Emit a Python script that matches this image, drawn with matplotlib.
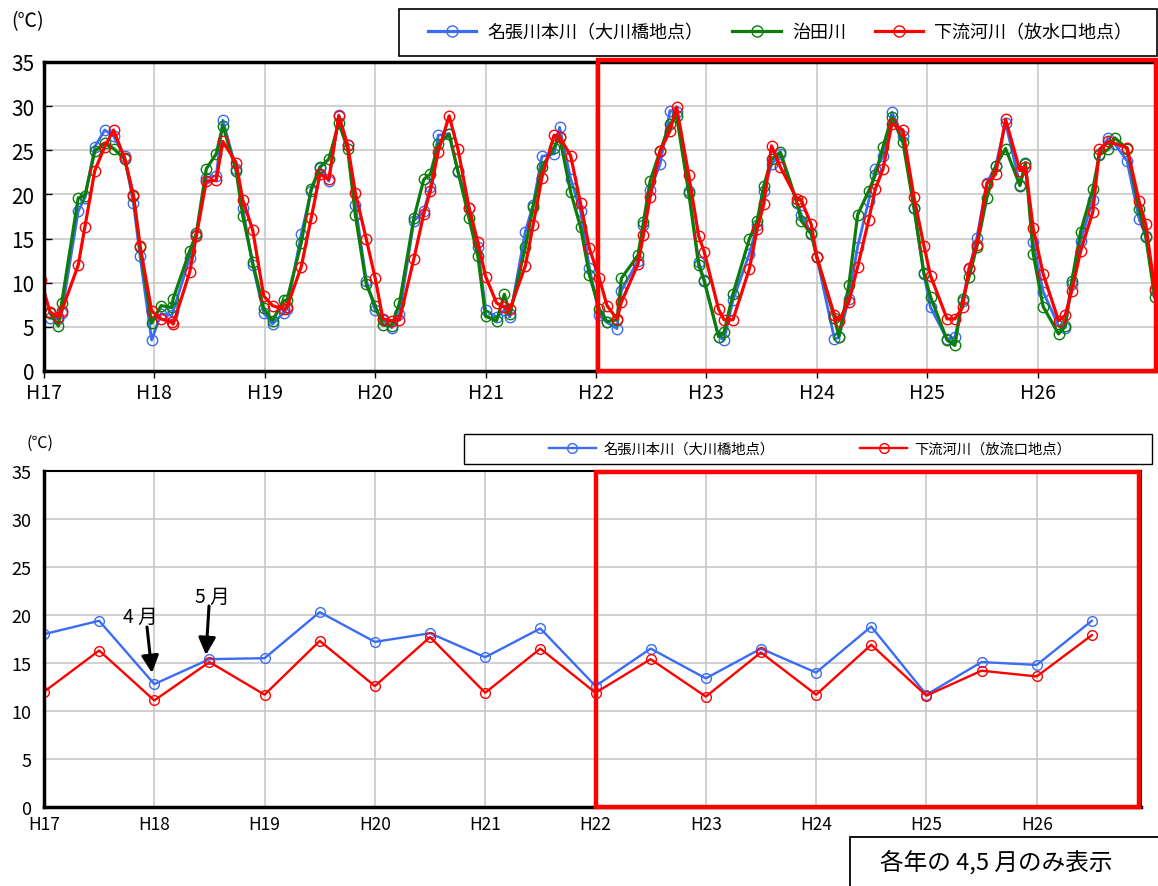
import numpy as np
import matplotlib
matplotlib.use("Agg")
import matplotlib.pyplot as plt
from matplotlib.patches import Rectangle
from matplotlib.lines import Line2D

plt.rcParams['font.family'] = ['Noto Sans CJK JP', 'DejaVu Sans']

# ---------------- data ----------------
year_labels = ['H17', 'H18', 'H19', 'H20', 'H21', 'H22', 'H23', 'H24', 'H25', 'H26']
series_names_top = ['名張川本川（大川橋地点）', '治田川', '下流河川（放水口地点）']
series_names_bottom = ['名張川本川（大川橋地点）', '下流河川（放流口地点）']

# sampling positions in years after H17
t_top = [-0.03, 0.054, 0.13, 0.16, 0.31, 0.37, 0.46, 0.55, 0.63, 0.73, 0.81, 0.87, 0.975,
         1.06, 1.157, 1.17, 1.32, 1.38, 1.47, 1.56, 1.62, 1.74, 1.80, 1.89, 1.99,
         2.07, 2.17, 2.20, 2.33, 2.42, 2.50, 2.58, 2.67, 2.75, 2.82, 2.92, 3.00,
         3.07, 3.15, 3.22, 3.35, 3.44, 3.50, 3.57, 3.67, 3.75, 3.85, 3.93, 4.00,
         4.10, 4.17, 4.22, 4.36, 4.43, 4.51, 4.62, 4.67, 4.77, 4.86, 4.94, 5.03,
         5.10, 5.19, 5.23, 5.38, 5.43, 5.49, 5.58, 5.67, 5.73, 5.84, 5.93, 5.98,
         6.11, 6.16, 6.24, 6.39, 6.46, 6.52, 6.59, 6.67, 6.82, 6.86, 6.95, 7.00,
         7.16, 7.20, 7.29, 7.37, 7.47, 7.53, 7.60, 7.68, 7.78, 7.88, 7.97, 8.03,
         8.18, 8.25, 8.32, 8.38, 8.45, 8.54, 8.62, 8.71, 8.84, 8.89, 8.96, 9.05,
         9.19, 9.25, 9.31, 9.39, 9.50, 9.56, 9.64, 9.70, 9.81, 9.92, 9.98, 10.06]

nabari_top = [np.nan, 6.0, 5.9, 6.6, 18.1, 19.6, 25.4, 27.3, 26.6, 24.3, 19.0, 13.0, 3.5,
              6.5, 6.3, 6.8, 12.8, 15.4, 21.9, 22.1, 28.4, 22.9, 18.5, 12.0, 6.6,
              5.3, 6.6, 7.0, 15.5, 20.4, 23.0, 21.5, 29.0, 25.6, 18.8, 10.2, 6.9,
              5.8, 4.9, 6.5, 17.0, 18.1, 20.8, 26.7, 26.9, 22.5, 18.5, 14.0, 6.9,
              6.1, 6.9, 6.1, 15.8, 18.8, 24.3, 24.6, 27.6, 21.8, 18.1, 11.7, 6.3,
              5.5, 4.8, 9.1, 12.5, 16.5, 20.5, 23.4, 29.5, 29.3, 20.4, 12.4, 10.3,
              3.9, 3.5, 8.0, 13.3, 16.5, 20.4, 23.4, 24.6, 19.0, 17.7, 15.6, 12.9,
              3.6, 3.8, 8.2, 14.1, 19.3, 22.9, 24.3, 29.3, 26.6, 18.5, 11.0, 7.2,
              3.6, 3.8, 7.9, 11.5, 15.1, 21.3, 23.2, 28.1, 21.1, 23.4, 14.6, 9.0,
              5.1, 4.9, 9.8, 14.7, 19.4, 24.6, 26.4, 25.7, 23.8, 17.2, 15.3, 9.1]

haruta_top = [np.nan, 6.6, 5.1, 7.7, 19.6, 19.8, 24.9, 25.8, 25.2, 24.0, 19.8, 14.0, 5.4,
              7.4, 7.2, 8.2, 13.6, 15.6, 22.9, 24.6, 27.8, 22.7, 17.6, 12.3, 7.1,
              5.7, 8.0, 8.0, 14.5, 20.6, 23.1, 24.0, 28.1, 25.2, 17.7, 9.8, 7.4,
              5.2, 5.1, 7.7, 17.3, 21.7, 22.3, 25.7, 26.8, 22.6, 17.3, 13.0, 6.2,
              5.7, 8.7, 6.4, 14.0, 18.6, 23.1, 25.3, 26.5, 20.3, 16.3, 10.9, 7.0,
              5.6, 5.8, 10.5, 13.1, 16.9, 21.5, 24.9, 28.0, 28.9, 20.2, 12.0, 10.2,
              3.9, 4.4, 8.7, 15.0, 17.0, 21.0, 24.0, 24.8, 19.1, 17.0, 15.5, 12.9,
              6.0, 3.9, 9.7, 17.7, 20.4, 22.2, 25.4, 28.8, 25.9, 18.5, 11.1, 8.4,
              3.5, 2.9, 8.1, 10.7, 14.1, 19.6, 23.2, 25.2, 21.0, 23.6, 13.3, 7.3,
              4.2, 5.1, 10.2, 15.8, 20.6, 24.5, 25.1, 26.4, 25.2, 18.3, 15.2, 8.4]

karyu_top = [10.3, 6.7, 6.1, 6.8, 12.0, 16.3, 22.7, 25.4, 27.3, 24.1, 19.9, 14.2, 6.8,
             5.9, 5.5, 5.3, 11.2, 15.3, 21.5, 21.6, 26.0, 23.6, 19.4, 16.0, 8.5,
             7.4, 7.0, 7.2, 11.8, 17.3, 22.3, 21.7, 28.9, 25.6, 20.2, 14.9, 10.5,
             5.9, 5.7, 5.8, 12.7, 17.8, 20.4, 24.8, 28.9, 25.1, 18.5, 14.6, 10.7,
             7.7, 7.2, 7.0, 11.9, 16.5, 21.9, 26.7, 26.5, 24.4, 19.0, 13.9, 10.5,
             7.4, 5.9, 7.8, 12.1, 15.4, 19.7, 24.9, 27.2, 29.9, 22.2, 15.3, 13.5,
             7.0, 5.8, 5.8, 11.6, 16.1, 18.9, 25.5, 23.1, 19.5, 19.3, 16.6, 12.9,
             6.3, 5.7, 7.8, 11.8, 17.1, 20.6, 22.9, 28.0, 27.3, 19.7, 14.2, 10.8,
             5.9, 5.9, 7.2, 11.7, 14.3, 21.2, 22.3, 28.5, 22.7, 23.1, 16.2, 11.0,
             5.7, 6.3, 9.1, 13.6, 18.0, 25.1, 26.0, np.nan, 25.3, 19.2, 16.6, 9.3]

# bottom chart: April (x = year) and May (x = year + 0.5)
t_bottom = [0.0, 0.5, 1.0, 1.5, 2.0, 2.5, 3.0, 3.5, 4.0, 4.5,
            5.0, 5.5, 6.0, 6.5, 7.0, 7.5, 8.0, 8.5, 9.0, 9.5]
nabari_bottom = [18.0, 19.4, 12.8, 15.4, 15.5, 20.3, 17.2, 18.1, 15.6, 18.6,
                 12.6, 16.5, 13.4, 16.5, 14.0, 18.8, 11.7, 15.1, 14.8, 19.4]
karyu_bottom = [12.0, 16.3, 11.1, 15.1, 11.7, 17.3, 12.6, 17.7, 11.9, 16.5,
                11.9, 15.4, 11.5, 16.1, 11.7, 16.9, 11.6, 14.2, 13.6, 17.9]

# ---------------- styling ----------------
W, H = 1158, 887
BLUE = '#3a6cf4'
GREEN = '#0a7d0a'
RED = '#ff0000'
GRID = '#c8c8c8'
tick_font = ['Liberation Sans Narrow', 'Noto Sans CJK JP', 'DejaVu Sans']

fig = plt.figure(figsize=(W / 100, H / 100), dpi=100)


def fx(px):
    return px / W


def fy(py):
    return 1 - py / H


def plot_series(ax, t, v, color, lw, ms):
    t = np.asarray(t, float)
    v = np.asarray(v, float)
    m = ~np.isnan(v)
    ax.plot(t[m], v[m], color=color, lw=lw, marker='o', ms=ms,
            mfc='none', mec=color, mew=1.0, clip_on=True)


# ---------------- top chart ----------------
ax1 = fig.add_axes([fx(44), fy(372), fx(1158 - 44), (372 - 63) / H])
ax1.set_xlim(0, (1158 - 44) / 110.4)
ax1.set_ylim(0, 35)
ax1.set_yticks(range(0, 36, 5))
ax1.set_xticks(range(10))
ax1.set_xticklabels(year_labels)
ax1.grid(True, color=GRID, lw=1.2)
ax1.set_axisbelow(True)
for s in ['left', 'top', 'bottom']:
    ax1.spines[s].set_linewidth(2.5)
    ax1.spines[s].set_color('black')
ax1.spines['right'].set_visible(False)
ax1.tick_params(axis='y', direction='in', length=6, width=1, pad=7)
ax1.tick_params(axis='x', direction='out', length=5, width=1, pad=3)
for lab in ax1.get_yticklabels():
    lab.set_fontfamily(tick_font)
    lab.set_fontsize(15)
for lab in ax1.get_xticklabels():
    lab.set_fontfamily(tick_font)
    lab.set_fontsize(14)

plot_series(ax1, t_top, nabari_top, BLUE, 2.0, 7.5)
plot_series(ax1, t_top, haruta_top, GREEN, 2.3, 7.5)
plot_series(ax1, t_top, karyu_top, RED, 2.3, 7.5)

fig.text(fx(11), fy(22), '(℃)', fontsize=14, va='center', ha='left')

# top legend box
fig.add_artist(Rectangle((fx(399), fy(57)), fx(1157 - 399), (57 - 10) / H,
                         transform=fig.transFigure, fill=False, ec='black', lw=1.2))
h_top = [Line2D([], [], color=c, lw=2.3, marker='o', ms=8, mfc='none', mec=c)
         for c in (BLUE, GREEN, RED)]
fig.legend(h_top, series_names_top, loc='center', bbox_to_anchor=(fx(780), fy(33)),
           ncol=3, frameon=False, fontsize=13, handlelength=2.7, columnspacing=1.6,
           handletextpad=0.6)

# red highlight box top
fig.add_artist(Rectangle((fx(598), fy(372)), fx(1156 - 598), (372 - 61) / H,
                         transform=fig.transFigure, fill=False, ec=RED, lw=3.2))

# ---------------- bottom chart ----------------
ax2 = fig.add_axes([fx(44), fy(808), fx(1141 - 44), (808 - 472) / H])
ax2.set_xlim(0, (1141 - 44) / 110.3)
ax2.set_ylim(0, 35)
ax2.set_yticks(range(0, 36, 5))
ax2.set_xticks(range(10))
ax2.set_xticklabels(year_labels)
ax2.grid(True, color=GRID, lw=1.2)
ax2.set_axisbelow(True)
for s in ['left', 'bottom']:
    ax2.spines[s].set_linewidth(2.5)
for s in ['top', 'right']:
    ax2.spines[s].set_linewidth(1.5)
ax2.tick_params(axis='y', length=0, pad=9)
ax2.tick_params(axis='x', length=0, pad=6)
for lab in ax2.get_yticklabels():
    lab.set_fontfamily(tick_font)
    lab.set_fontsize(13)
for lab in ax2.get_xticklabels():
    lab.set_fontfamily(tick_font)
    lab.set_fontsize(12.5)

plot_series(ax2, t_bottom, nabari_bottom, BLUE, 1.7, 7)
plot_series(ax2, t_bottom, karyu_bottom, RED, 1.7, 7)

fig.text(fx(27), fy(443), '(℃)', fontsize=11.5, va='center', ha='left')

# bottom legend box
fig.add_artist(Rectangle((fx(464), fy(465)), fx(1152 - 464), (465 - 435) / H,
                         transform=fig.transFigure, fill=False, ec='black', lw=1.0))
h_bot = [Line2D([], [], color=c, lw=1.7, marker='o', ms=7, mfc='none', mec=c)
         for c in (BLUE, RED)]
fig.legend(h_bot, series_names_bottom, loc='center', bbox_to_anchor=(fx(810), fy(450)),
           ncol=2, frameon=False, fontsize=10.3, handlelength=3.3, columnspacing=6.0,
           handletextpad=0.5)

# red highlight box bottom
fig.add_artist(Rectangle((fx(596), fy(808)), fx(1139 - 596), (808 - 473) / H,
                         transform=fig.transFigure, fill=False, ec=RED, lw=3.2))

# annotations
def px2d(px, py):
    return ((px - 44) / 110.3, (808 - py) / 9.6)

arrow = dict(arrowstyle='-|>', color='black', lw=2.2, mutation_scale=26, shrinkA=0, shrinkB=0)
ax2.annotate('', xy=px2d(152, 674), xytext=px2d(147, 628), arrowprops=arrow)
ax2.annotate('', xy=px2d(206, 656), xytext=px2d(209, 607), arrowprops=arrow)
ax2.text(*px2d(140, 617), '4 月', fontsize=14, ha='center', va='center')
ax2.text(*px2d(212, 597), '5 月', fontsize=14, ha='center', va='center')

# note box
fig.add_artist(Rectangle((fx(850), fy(892)), fx(1160 - 850), (892 - 838) / H,
                         transform=fig.transFigure, fill=False, ec='black', lw=1.3,
                         clip_on=False))
fig.text(fx(996), fy(862), '各年の 4,5 月のみ表示', fontsize=17, ha='center', va='center')

fig.savefig('out.png', dpi=100)
